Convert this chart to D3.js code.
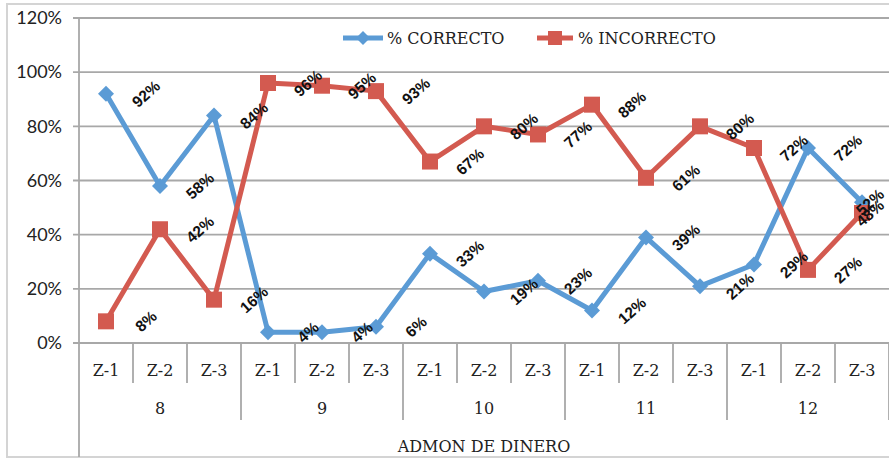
<!DOCTYPE html>
<html><head><meta charset="utf-8">
<script src="https://cdn.jsdelivr.net/npm/d3@7/dist/d3.min.js"></script>
<style>html,body{margin:0;padding:0;background:#fff}svg{display:block}</style>
</head><body>
<svg id="c" width="889" height="459"></svg>
<script>
const groups = ["8", "9", "10", "11", "12"];
const zones = ["Z-1", "Z-2", "Z-3"];
const correcto = [92, 58, 84, 4, 4, 6, 33, 19, 23, 12, 39, 21, 29, 72, 52];
const incorrecto = [8, 42, 16, 96, 95, 93, 67, 80, 77, 88, 61, 80, 72, 27, 48];
const yTicks = [0, 20, 40, 60, 80, 100, 120];
const seriesNames = ["% CORRECTO", "% INCORRECTO"];
const axisTitle = "ADMON DE DINERO";

const cats = [];
groups.forEach(g => zones.forEach(z => cats.push(g + "|" + z)));

const svg = d3.select("#c");
const L = 79, R = 889, T = 18, B = 343;
const blue = "#5B9BD5", red = "#D35A50", grid = "#a8a8a8";
const serif = "'DejaVu Serif', serif";

const x = d3.scaleBand().domain(cats).range([L, R]);
const y = d3.scaleLinear().domain([0, 120]).range([B, T]);
const cx = c => x(c) + x.bandwidth() / 2;

// outer border
svg.append("rect").attr("x", 7).attr("y", 4).attr("width", 900).attr("height", 453)
  .attr("fill", "none").attr("stroke", "#d4d4d4").attr("stroke-width", 2);

// gridlines
svg.append("g").selectAll("line").data(yTicks).join("line")
  .attr("x1", L - 6).attr("x2", R).attr("y1", d => y(d)).attr("y2", d => y(d))
  .attr("stroke", grid).attr("stroke-width", 1.8);

// y labels
svg.append("g").selectAll("text").data(yTicks).join("text")
  .attr("x", 62).attr("y", d => y(d)).attr("dy", "0.35em").attr("text-anchor", "end")
  .attr("font-family", "Lato, 'Liberation Sans', sans-serif").attr("font-size", 18).attr("fill", "#222")
  .text(d => d + "%");

// left axis line
svg.append("line").attr("x1", L).attr("x2", L).attr("y1", T).attr("y2", 457)
  .attr("stroke", grid).attr("stroke-width", 1.8);

// category separators
const bounds = d3.range(1, cats.length + 1);
svg.append("g").selectAll("line").data(bounds).join("line")
  .attr("x1", i => L + i * x.bandwidth()).attr("x2", i => L + i * x.bandwidth())
  .attr("y1", B).attr("y2", i => (i % 3 === 0 ? 420 : 383))
  .attr("stroke", grid).attr("stroke-width", 1.8);

// zone labels
svg.append("g").selectAll("text").data(cats).join("text")
  .attr("x", d => cx(d)).attr("y", 370).attr("dy", "0.35em").attr("text-anchor", "middle")
  .attr("font-family", serif).attr("font-size", 16).attr("fill", "#222")
  .text(d => d.split("|")[1]);

// group labels
svg.append("g").selectAll("text").data(groups).join("text")
  .attr("x", (g, i) => L + (i * 3 + 1.5) * x.bandwidth()).attr("y", 408).attr("dy", "0.35em")
  .attr("text-anchor", "middle")
  .attr("font-family", serif).attr("font-size", 16).attr("fill", "#222")
  .text(g => g);

// axis title
svg.append("text").attr("x", (L + R) / 2).attr("y", 446).attr("dy", "0.35em").attr("text-anchor", "middle")
  .attr("font-family", serif).attr("font-size", 16).attr("fill", "#222")
  .text(axisTitle);

const line = d3.line().x((d, i) => cx(cats[i])).y(d => y(d));
const diamond = (px, py, r) => `M${px},${py - r}L${px + r},${py}L${px},${py + r}L${px - r},${py}Z`;

function drawSeries(vals, color, kind) {
  svg.append("path").attr("d", line(vals)).attr("fill", "none")
    .attr("stroke", color).attr("stroke-width", 5).attr("stroke-linejoin", "round");
  const g = svg.append("g");
  vals.forEach((v, i) => {
    const px = cx(cats[i]), py = y(v);
    if (kind === "d") g.append("path").attr("d", diamond(px, py, 8)).attr("fill", color);
    else g.append("rect").attr("x", px - 8).attr("y", py - 8).attr("width", 16).attr("height", 16).attr("fill", color);
  });
}
drawSeries(correcto, blue, "d");
drawSeries(incorrecto, red, "s");

function drawLabels(vals) {
  svg.append("g").selectAll("text").data(vals).join("text")
    .attr("transform", (v, i) => {
      const lx = Math.min(cx(cats[i]) + 40, 870);
      return `translate(${lx},${y(v)}) rotate(-42)`;
    })
    .attr("text-anchor", "middle").attr("dy", "0.35em")
    .attr("font-family", "'Liberation Sans', Arial, sans-serif").attr("font-weight", "bold")
    .attr("font-size", 15.5).attr("fill", "#111")
    .text(v => v + "%");
}
drawLabels(correcto);
drawLabels(incorrecto);

// legend
const lg = svg.append("g");
lg.append("line").attr("x1", 343).attr("x2", 383).attr("y1", 38).attr("y2", 38).attr("stroke", blue).attr("stroke-width", 5);
lg.append("path").attr("d", diamond(363, 38, 7)).attr("fill", blue);
lg.append("text").attr("x", 387).attr("y", 38).attr("dy", "0.35em")
  .attr("font-family", serif).attr("font-size", 16).attr("fill", "#222").text(seriesNames[0]);
lg.append("line").attr("x1", 537).attr("x2", 573).attr("y1", 38).attr("y2", 38).attr("stroke", red).attr("stroke-width", 5);
lg.append("rect").attr("x", 548).attr("y", 31).attr("width", 14).attr("height", 14).attr("fill", red);
lg.append("text").attr("x", 578).attr("y", 38).attr("dy", "0.35em")
  .attr("font-family", serif).attr("font-size", 16).attr("fill", "#222").text(seriesNames[1]);
</script>
</body></html>
